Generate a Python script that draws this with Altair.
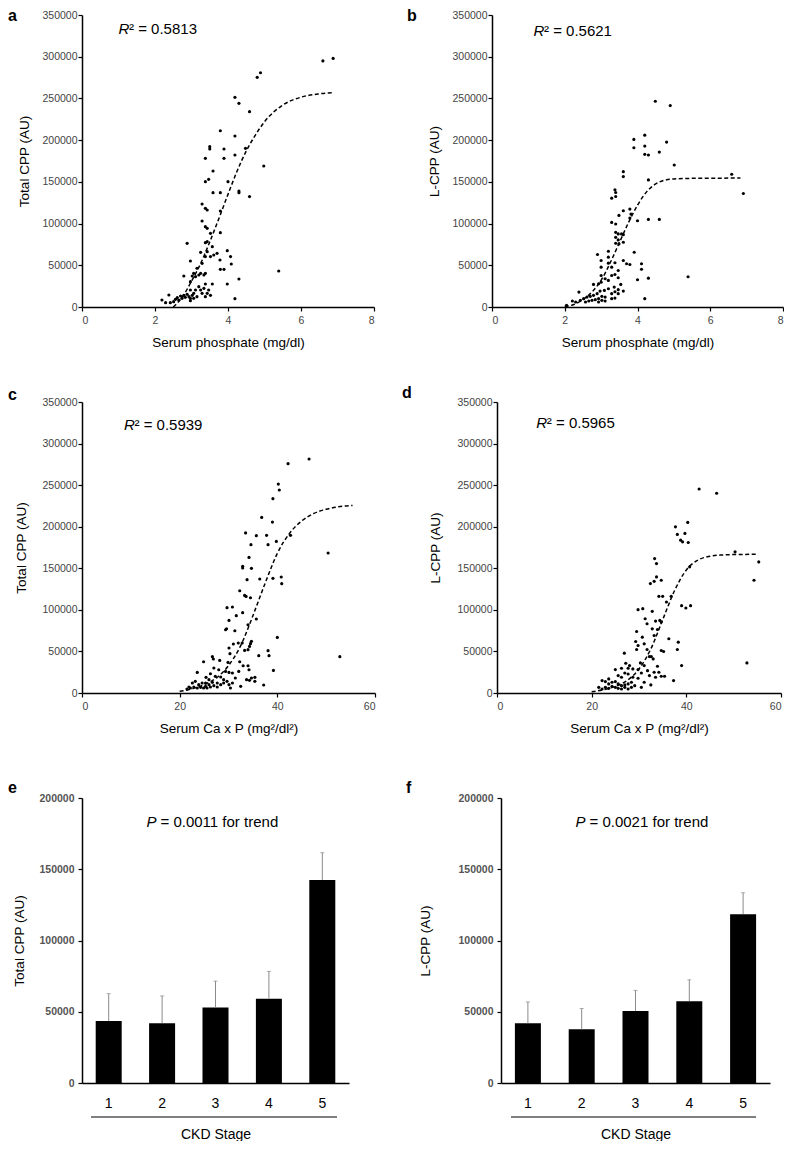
import altair as alt
import pandas as pd

FONT = "Liberation Sans"

# ---------------- Panel a: Total CPP vs serum phosphate ----------------
a_x = [2.19, 2.29, 2.38, 2.42, 2.51, 2.56, 2.61, 2.65, 2.70, 2.74, 2.79, 2.83, 2.88, 2.93, 2.97, 2.97,
       3.02, 3.06, 3.06, 3.11, 3.15, 3.20, 3.25, 3.29, 3.34, 3.38, 3.43, 3.47, 3.52, 3.57, 3.38, 2.97,
       2.97, 3.02, 3.06, 3.11, 3.15, 3.20, 3.25, 3.34, 3.38, 2.79, 2.88, 2.97, 3.25, 3.29, 3.38, 3.43,
       3.52, 3.57, 3.61, 3.70, 3.78, 3.79, 3.89, 3.98, 4.07, 4.09, 3.98, 4.30, 4.19, 3.38, 3.43, 3.52,
       3.29, 3.38, 3.43, 3.38, 3.43, 3.29, 3.38, 3.47, 3.59, 3.50, 3.50, 3.38, 3.79, 3.89, 3.89, 3.59,
       3.79, 3.79, 3.79, 4.00, 4.19, 4.19, 4.30, 4.30, 4.48, 4.59, 4.59, 4.19, 4.30, 4.80, 4.89, 4.98,
       5.39, 6.60, 6.88]
a_y = [8400, 5200, 14400, 5200, 6400, 9200, 11200, 8400, 13200, 10400, 14000, 11600, 15200, 12400, 10400, 7600,
       14000, 16400, 10400, 20400, 12400, 24400, 20400, 16400, 22400, 12400, 16400, 20400, 14000, 27600, 27600, 20400,
       30400, 37200, 40400, 36400, 46400, 38400, 40400, 38400, 40400, 37200, 76300, 55100, 65500, 52300, 60400, 66300,
       60400, 72300, 62300, 64300, 56300, 45100, 45100, 67500, 60400, 51500, 27600, 33600, 10000, 77100, 78300, 88300,
       103100, 118300, 116300, 96300, 94300, 123500, 150200, 153000, 163000, 189400, 192200, 178200, 211300, 189400, 178200, 137000,
       137000, 115100, 89100, 150200, 205000, 182200, 139000, 137000, 190200, 132300, 234100, 251300, 244100, 275300, 280800, 169000,
       43100, 295000, 298000]
a_curve_x = [2.5, 2.75, 3.0, 3.25, 3.5, 3.75, 4.0, 4.25, 4.5, 4.75, 5.0, 5.5, 6.0, 6.5, 6.9]
a_curve_y = [0, 12000, 31000, 52000, 78000, 106000, 135000, 163000, 187000, 206000, 222000, 242000, 251500, 255500, 257000]

# ---------------- Panel b: L-CPP vs serum phosphate ----------------
b_x = [4.49, 4.90, 3.90, 3.90, 4.20, 4.20, 4.20, 4.30, 4.80, 4.60, 5.01, 3.61, 3.61, 4.30, 3.38, 3.40,
       3.40, 3.29, 6.59, 6.91, 3.61, 3.49, 3.79, 3.82, 3.29, 3.40, 4.00, 4.30, 4.60, 3.40, 3.47, 3.56,
       3.61, 3.40, 3.47, 3.40, 3.49, 3.61, 3.79, 2.90, 3.20, 3.20, 3.00, 3.20, 3.00, 3.29, 3.38, 3.47,
       3.61, 3.70, 3.79, 3.91, 4.11, 4.11, 4.00, 4.30, 5.39, 4.20, 3.29, 3.38, 3.47, 3.00, 3.11, 3.20,
       3.00, 2.93, 2.79, 3.36, 3.47, 3.54, 3.61, 3.29, 3.38, 3.47, 3.20, 3.09, 2.97, 2.89, 2.79, 2.70,
       2.61, 2.52, 2.43, 2.39, 2.30, 2.21, 3.02, 3.11, 2.93, 2.84, 2.75, 2.66, 2.57, 3.02, 2.93, 3.11,
       3.29, 3.38, 2.05]
b_y = [246600, 241400, 200900, 190900, 206000, 192900, 183000, 182200, 197700, 185700, 170200, 162200, 156300, 152300, 140400, 137200,
       132400, 130500, 159100, 136000, 115400, 109800, 117400, 111400, 101400, 99500, 103400, 105000, 105000, 89500, 87600, 87600,
       86700, 83500, 80400, 76400, 75600, 77600, 106600, 62900, 66800, 59700, 55700, 52500, 47700, 47700, 53000, 43800,
       55700, 51800, 50900, 65600, 51800, 45300, 32700, 34600, 36300, 10000, 37800, 39000, 35100, 37800, 33900, 31900,
       29800, 27900, 27100, 23900, 20800, 27100, 19100, 16000, 18300, 16000, 21900, 19900, 19100, 16000, 14000, 12800,
       11900, 10000, 8000, 17900, 6000, 7200, 12800, 11900, 10000, 8800, 8000, 7200, 6000, 8000, 6000, 7200,
       10000, 10700, 2000]
b_curve_x = [2.0, 2.25, 2.5, 2.75, 3.0, 3.25, 3.5, 3.75, 4.0, 4.25, 4.5, 4.75, 5.0, 5.5, 6.0, 6.83]
b_curve_y = [500, 3000, 9000, 18000, 32000, 53000, 77000, 101000, 122000, 138000, 147500, 152000, 153500, 154200, 154400, 154500]

# ---------------- Panel c: Total CPP vs Ca x P ----------------
c_x = [42.2, 46.5, 40.2, 40.4, 39.1, 36.8, 39.0, 42.7, 50.4, 52.8, 33.5, 35.7, 37.8, 39.8, 34.6, 38.1,
       34.2, 32.9, 32.9, 34.7, 33.8, 36.4, 39.1, 40.8, 40.9, 32.3, 33.3, 33.6, 34.5, 29.7, 30.8, 31.6,
       32.9, 30.1, 35.7, 29.4, 29.6, 31.3, 34.0, 40.0, 32.8, 34.7, 34.5, 34.3, 32.0, 31.0, 30.1, 30.3,
       33.3, 34.0, 36.2, 38.1, 38.3, 39.2, 37.2, 24.9, 26.7, 26.9, 28.2, 29.9, 32.3, 33.0, 34.0, 27.0,
       28.0, 29.4, 30.1, 30.8, 32.1, 34.2, 34.7, 35.4, 35.4, 33.7, 34.3, 31.4, 32.5, 30.4, 23.6, 25.4,
       26.3, 27.3, 28.4, 29.0, 29.7, 27.7, 26.7, 26.0, 25.3, 24.6, 23.9, 23.2, 22.6, 21.9, 21.5, 22.2,
       22.9, 23.6, 24.3, 24.9, 25.6, 26.3, 27.0, 27.7, 28.4, 29.0, 25.3, 26.0, 30.1, 30.8]
c_y = [275800, 281400, 251300, 244200, 233700, 211200, 205600, 189600, 168400, 43700, 192500, 189200, 189600, 182300, 178400, 178400,
       163100, 152300, 150300, 149900, 136300, 137100, 137900, 139500, 131500, 123000, 117400, 116200, 114600, 102600, 103400, 93000,
       96600, 87300, 89000, 76100, 77300, 74900, 82100, 66900, 60100, 62100, 59300, 56000, 60100, 58900, 54100, 47300,
       51200, 52100, 44900, 50900, 44900, 27200, 9600, 37600, 43700, 40900, 39200, 36800, 37600, 32800, 32800, 30100,
       28000, 26000, 24800, 24100, 26000, 28000, 18000, 18800, 14000, 16000, 15200, 18000, 8000, 6000, 24800, 18800,
       23200, 20000, 19200, 16000, 14000, 12000, 12800, 10000, 8000, 12000, 10000, 14000, 12000, 7200, 4800, 6000,
       7200, 6000, 6800, 6000, 6000, 7200, 8800, 7200, 10000, 12000, 12000, 16000, 10000, 12000]
c_curve_x = [20, 22.5, 25, 27.5, 30, 32.5, 35, 37.5, 40, 42.5, 45, 47.5, 50, 52.5, 55.4]
c_curve_y = [2000, 5000, 10000, 18000, 33000, 57000, 93000, 132000, 168000, 192000, 207000, 216000, 221000, 224000, 225500]

# ---------------- Panel d: L-CPP vs Ca x P ----------------
d_x = [42.7, 46.4, 37.7, 40.3, 38.1, 39.7, 38.8, 39.2, 40.4, 50.3, 55.3, 54.3, 52.8, 33.3, 33.7, 40.7,
       32.4, 33.2, 33.7, 34.7, 34.2, 35.0, 35.8, 36.8, 39.0, 39.9, 40.9, 29.8, 30.8, 32.8, 31.3, 31.7,
       33.5, 34.4, 34.7, 29.5, 30.7, 32.8, 33.9, 33.2, 36.3, 38.3, 38.1, 29.3, 29.8, 31.1, 29.5, 31.7,
       32.2, 32.6, 33.0, 34.7, 35.2, 39.0, 37.3, 26.9, 27.2, 28.0, 26.3, 25.0, 27.7, 28.7, 29.8, 30.3,
       31.1, 30.5, 31.8, 32.2, 33.2, 33.9, 34.2, 33.5, 34.7, 35.4, 29.8, 28.7, 27.7, 27.0, 26.3, 25.6,
       23.6, 22.2, 22.9, 23.6, 24.3, 25.0, 25.6, 26.3, 27.0, 27.7, 28.4, 29.1, 30.5, 31.1, 32.5, 21.5,
       22.2, 22.9, 23.6, 24.3, 25.0, 25.6, 26.3, 27.0, 27.7, 28.4]
d_y = [245400, 240200, 199900, 205200, 190700, 191900, 183800, 181800, 181000, 169800, 157700, 135600, 36200, 161700, 155700, 151700,
       131600, 134300, 139600, 135600, 116300, 116300, 109400, 116300, 105000, 102200, 105000, 100200, 101400, 98200, 89300, 83300,
       86500, 87300, 85300, 74000, 67200, 77200, 76400, 69200, 65200, 61100, 52300, 61900, 57100, 59100, 52300, 52300,
       43800, 43800, 41000, 51100, 49900, 33000, 14900, 47900, 35800, 33000, 29800, 28200, 29800, 29000, 28200, 36200,
       33000, 24100, 26900, 20900, 25000, 32200, 25000, 18900, 20100, 20100, 17700, 18900, 22900, 24100, 18900, 20900,
       16900, 14900, 13700, 10900, 12900, 13700, 10900, 8800, 9700, 10900, 12900, 8800, 6800, 12900, 9700, 6800,
       4800, 6800, 5600, 8000, 6800, 5600, 4800, 6800, 4800, 6800]
d_curve_x = [20, 22.5, 25, 27.5, 30, 32.5, 35, 37.5, 40, 42.5, 45, 47.5, 50, 52.5, 54.9]
d_curve_y = [1500, 4000, 8000, 15000, 29000, 53000, 88000, 123000, 148000, 160000, 164500, 166000, 166500, 166700, 167000]

# ---------------- Panels e, f: CKD stage bars ----------------
stages = ["1", "2", "3", "4", "5"]
e_mean = [43500, 41900, 53000, 59200, 142400]
e_top = [62700, 61100, 71500, 78300, 161600]
f_mean = [41900, 37700, 50500, 57400, 118500]
f_top = [56900, 52300, 65000, 72400, 133500]

R2_TEXT = {"a": "0.5813", "b": "0.5621", "c": "0.5939", "d": "0.5965"}
P_TEXT = {"e": "0.0011", "f": "0.0021"}


def scatter_panel(px, py, cx, cy, xmax, xstep, xtitle, ytitle, letter, ann_x, ann_y,
                  letter_x, letter_y, w, h, ytpad, xtpad):
    pts = pd.DataFrame({"x": px, "y": py})
    crv = pd.DataFrame({"x": cx, "y": cy})
    ann = pd.DataFrame({"x": [ann_x], "y": [ann_y]})
    xs = alt.Scale(domain=[0, xmax], nice=False, zero=False)
    ys = alt.Scale(domain=[0, 350000], nice=False, zero=False)
    xax = alt.Axis(values=list(range(0, xmax + 1, xstep)), title=xtitle, format="d",
                   labelPadding=4, titlePadding=xtpad)
    yax = alt.Axis(values=list(range(0, 350001, 50000)), title=ytitle, format="d",
                   labelPadding=1, titlePadding=ytpad)
    p = alt.Chart(pts).mark_circle(size=10, color="black", opacity=1).encode(
        x=alt.X("x:Q", scale=xs, axis=xax), y=alt.Y("y:Q", scale=ys, axis=yax))
    ln = alt.Chart(crv).mark_line(color="black", strokeDash=[4, 2.5], strokeWidth=1.5,
                                  interpolate="monotone").encode(
        x=alt.X("x:Q", scale=xs), y=alt.Y("y:Q", scale=ys))
    r = alt.Chart(ann).mark_text(font=FONT, fontSize=15, fontStyle="italic", align="left",
                                 baseline="middle", color="black").encode(
        x=alt.X("x:Q", scale=xs), y=alt.Y("y:Q", scale=ys), text=alt.value("R"))
    rest = alt.Chart(ann).mark_text(font=FONT, fontSize=15, align="left", baseline="middle",
                                    dx=10.5, color="black").encode(
        x=alt.X("x:Q", scale=xs), y=alt.Y("y:Q", scale=ys),
        text=alt.value("\u00b2 = " + R2_TEXT[letter]))
    lab = alt.Chart(ann).mark_text(font=FONT, fontSize=16, fontWeight="bold", align="left",
                                   baseline="alphabetic", color="black").encode(
        x=alt.value(letter_x), y=alt.value(letter_y), text=alt.value(letter))
    return alt.layer(p, ln, r, rest, lab).properties(width=w, height=h)


def bar_panel(mean, top, ytitle, letter, p_dx, letter_x, letter_y, w, h, ytpad, rule_x1, rule_x2):
    df = pd.DataFrame({"stage": stages, "mean": mean, "top": top})
    one = pd.DataFrame({"stage": ["3"], "y": [183300]})
    ys = alt.Scale(domain=[0, 200000], nice=False, zero=False)
    xs = alt.Scale(domain=stages)
    xax = alt.Axis(title="CKD Stage", labelAngle=0, ticks=False, labelFontSize=14,
                   labelColor="black", labelPadding=13, titlePadding=17, titleFontSize=14)
    yax = alt.Axis(values=list(range(0, 200001, 50000)), title=ytitle, format="d",
                   labelFontWeight="bold", labelColor="#555", labelPadding=4, titlePadding=ytpad)
    bars = alt.Chart(df).mark_bar(size=26, color="black").encode(
        x=alt.X("stage:O", scale=xs, axis=xax), y=alt.Y("mean:Q", scale=ys, axis=yax))
    err = alt.Chart(df).mark_rule(color="#8a8a8a", strokeWidth=1).encode(
        x=alt.X("stage:O", scale=xs), y=alt.Y("mean:Q", scale=ys), y2="top:Q")
    cap = alt.Chart(df).mark_tick(color="#8a8a8a", size=4, thickness=1).encode(
        x=alt.X("stage:O", scale=xs), y=alt.Y("top:Q", scale=ys))
    pt = alt.Chart(one).mark_text(font=FONT, fontSize=15, fontStyle="italic", align="left",
                                  baseline="middle", dx=p_dx, color="black").encode(
        x=alt.X("stage:O", scale=xs), y=alt.Y("y:Q", scale=ys), text=alt.value("P"))
    pr = alt.Chart(one).mark_text(font=FONT, fontSize=15, align="left", baseline="middle",
                                  dx=p_dx + 14, color="black").encode(
        x=alt.X("stage:O", scale=xs), y=alt.Y("y:Q", scale=ys),
        text=alt.value("= " + P_TEXT[letter] + " for trend"))
    line = alt.Chart(one).mark_rule(color="black", strokeWidth=1).encode(
        x=alt.value(rule_x1), x2=alt.value(rule_x2), y=alt.value(h + 34))
    lab = alt.Chart(one).mark_text(font=FONT, fontSize=16, fontWeight="bold", align="left",
                                   baseline="alphabetic", color="black").encode(
        x=alt.value(letter_x), y=alt.value(letter_y), text=alt.value(letter))
    return alt.layer(bars, err, cap, pt, pr, line, lab).properties(width=w, height=h)


pa = scatter_panel(a_x, a_y, a_curve_x, a_curve_y, 8, 2, "Serum phosphate (mg/dl)", "Total CPP (AU)",
                   "a", 1.0, 333000, -74, 6, 292, 292, 10, 10)
pb = scatter_panel(b_x, b_y, b_curve_x, b_curve_y, 8, 2, "Serum phosphate (mg/dl)", "L-CPP (AU)",
                   "b", 1.14, 331000, -85, 6, 291, 292, 10, 10)
pc = scatter_panel(c_x, c_y, c_curve_x, c_curve_y, 60, 20, "Serum Ca x P (mg\u00b2/dl\u00b2)", "Total CPP (AU)",
                   "c", 8.6, 322700, -74, -2, 293, 291, 13, 10)
pd_ = scatter_panel(d_x, d_y, d_curve_x, d_curve_y, 60, 20, "Serum Ca x P (mg\u00b2/dl\u00b2)", "L-CPP (AU)",
                    "d", 8.3, 324700, -95, -4, 284, 291, 14, 10)
pe = bar_panel(e_mean, e_top, "Total CPP (AU)", "e", -69, -74, -5, 267, 285, 12, 9, 255)
pf = bar_panel(f_mean, f_top, "L-CPP (AU)", "f", -60, -95, -5, 269, 285, 25, 10, 255)

row1 = alt.hconcat(pa, pb, spacing=32, bounds="full")
row2 = alt.hconcat(pc, pd_, spacing=26, bounds="full")
row3 = alt.hconcat(pe, pf, spacing=57, bounds="full")

top2 = alt.concat(row1, row2, columns=1, spacing=36, align="none")
chart = alt.concat(top2, row3, columns=1, spacing=45, align="none").properties(
    padding=0, background="white"
).configure_view(stroke=None).configure_axis(
    grid=False, domainColor="black", domainWidth=1.5, tickColor="black", tickWidth=1.2,
    tickSize=4, labelColor="#444", labelFont=FONT, labelFontSize=10.5, titleFont=FONT,
    titleFontSize=13.5, titleFontWeight="normal", titleColor="black"
)

chart.save("out.html", embed_options={"renderer": "svg", "actions": False})
